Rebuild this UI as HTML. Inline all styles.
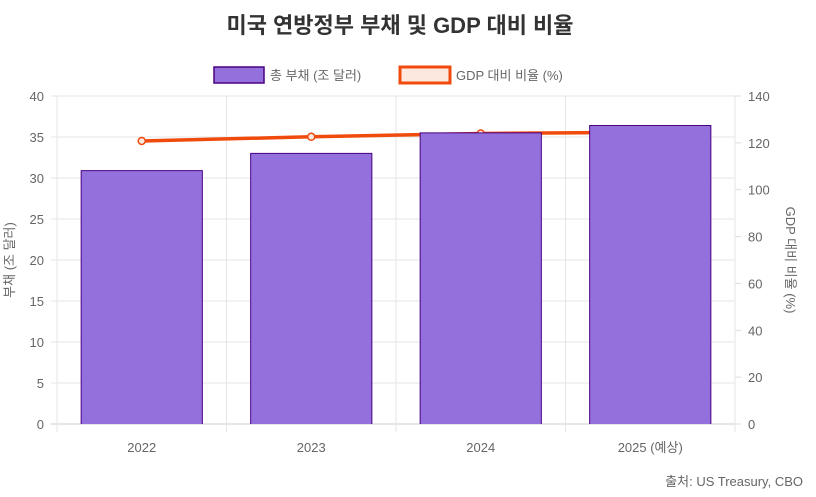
<!DOCTYPE html>
<html><head><meta charset="utf-8"><style>
body{margin:0;background:#fff;width:816px;height:492px;overflow:hidden;font-family:"Liberation Sans","Noto Sans CJK KR",sans-serif}
svg text{font-family:"Liberation Sans","Noto Sans CJK KR",sans-serif}
</style></head><body>
<svg id="c" width="816" height="492" xmlns="http://www.w3.org/2000/svg">
<text x="400" y="33" text-anchor="middle" font-size="22" font-weight="bold" fill="#333">미국 연방정부 부채 및 GDP 대비 비율</text>
<g>
<rect x="214" y="67" width="50" height="16" fill="#9370db" stroke="#4b0082" stroke-width="1.5"/>
<text x="270" y="80" font-size="13" fill="#666">총 부채 (조 달러)</text>
<rect x="400" y="67" width="50" height="16" fill="#fde8e0" stroke="#f04a0c" stroke-width="3"/>
<text x="456" y="80" font-size="13" fill="#666">GDP 대비 비율 (%)</text>
</g>
<g id="grid"></g><g id="line"></g><g id="bars"></g><g id="axes"></g>
<text transform="translate(14,260) rotate(-90)" text-anchor="middle" font-size="13" fill="#666">부채 (조 달러)</text>
<text transform="translate(786,260) rotate(90)" text-anchor="middle" font-size="13" fill="#666">GDP 대비 비율 (%)</text>
<text x="803" y="486" text-anchor="end" font-size="13" fill="#666">출처: US Treasury, CBO</text>
</svg>
<script>
const categories=["2022","2023","2024","2025 (예상)"];
const debtValues=[30.9,33.0,35.5,36.4];
const gdpRatio=[120.8,122.6,124.0,124.5];
const leftTicks=[0,5,10,15,20,25,30,35,40];
const rightTicks=[0,20,40,60,80,100,120,140];
const NS="http://www.w3.org/2000/svg";
const X0=57,X1=735,Y0=424,Y1=96;
const bw=(X1-X0)/categories.length;
const xc=i=>X0+bw*(i+0.5);
const yl=v=>Y0-(v/40)*(Y0-Y1);
const yr=v=>Y0-(v/140)*(Y0-Y1);
function mk(t,a,p){const e=document.createElementNS(NS,t);for(const k in a)e.setAttribute(k,a[k]);p.appendChild(e);return e;}
const grid=document.getElementById('grid'),axes=document.getElementById('axes'),bars=document.getElementById('bars'),line=document.getElementById('line');
leftTicks.forEach(v=>{
 const g=mk('line',{x1:X0-6,x2:X1,y1:yl(v),y2:yl(v),stroke:v===0?'#ccc':'#e5e5e5'},grid);
 
 
 const t=mk('text',{x:X0-13,y:yl(v)+5,'text-anchor':'end','font-size':13,fill:'#666'},axes);t.textContent=v;
 
 
});
rightTicks.forEach(v=>{
 const k=mk('line',{x1:X1,x2:X1+6,y1:yr(v),y2:yr(v),stroke:'#ddd'},grid);
 
 
 const t=mk('text',{x:X1+13,y:yr(v)+5,'font-size':13,fill:'#666'},axes);t.textContent=v;
 
 
});
for(let i=0;i<=categories.length;i++){
 const x=X0+bw*i;
 const g=mk('line',{x1:x,x2:x,y1:Y1,y2:Y0+8,stroke:'#e5e5e5'},grid);
 
 
}
categories.forEach((c,i)=>{
 const t=mk('text',{x:xc(i),y:Y0+28,'text-anchor':'middle','font-size':13,fill:'#666'},axes);t.textContent=c;
 
 
});
const pts=gdpRatio.map((v,i)=>xc(i)+','+yr(v)).join(' ');
const pl=mk('polyline',{points:pts,fill:'none',stroke:'#f04a0c','stroke-width':3.5},line);


gdpRatio.forEach((v,i)=>{
 const c=mk('circle',{cx:xc(i),cy:yr(v),r:3.5,fill:'#fde8e0',stroke:'#f04a0c','stroke-width':1.5},line);
 
 
});
const barW=bw*0.715;
debtValues.forEach((v,i)=>{
 const x=xc(i)-barW/2,y=yl(v);
 const r=mk('rect',{x:x,y:y,width:barW,height:Y0-y,fill:'#9370db'},bars);
 
 
 const b=mk('path',{d:`M${x} ${Y0}V${y}H${x+barW}V${Y0}`,fill:'none',stroke:'#4b0082','stroke-width':1},bars);
 
 
});
</script>
</body></html>
